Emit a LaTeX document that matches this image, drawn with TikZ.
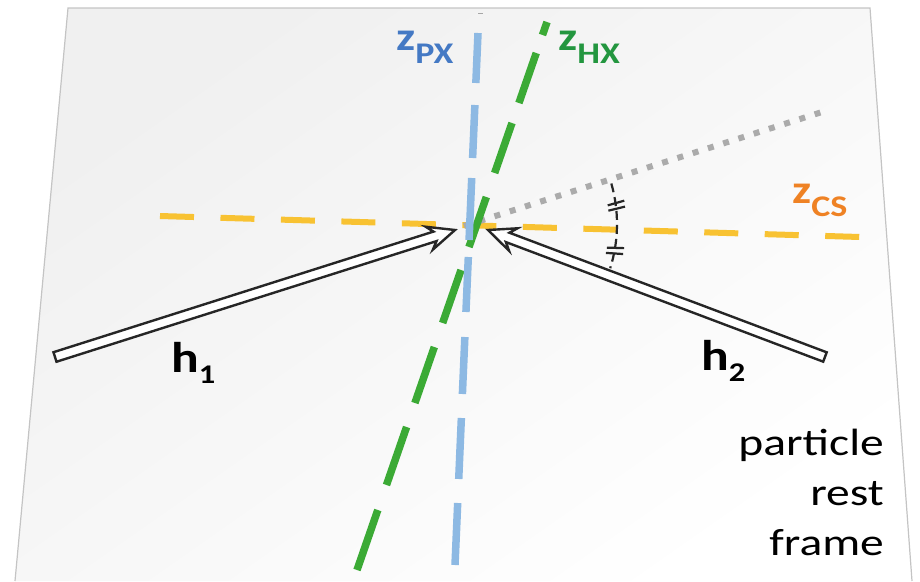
\documentclass[tikz,border=0pt]{standalone}
\usepackage{fontspec}
\usepackage{graphicx}
\usetikzlibrary{calc}
\newfontfamily\calfont{Carlito}
\definecolor{cOrange}{HTML}{F8C232}
\definecolor{cBlue}{HTML}{8DB9E3}
\definecolor{cGreen}{HTML}{3BAA35}
\definecolor{cGray}{HTML}{ABABAB}
\definecolor{tBlue}{HTML}{4479C4}
\definecolor{tGreen}{HTML}{23963F}
\definecolor{tOrange}{HTML}{EF8224}
\definecolor{planeEdge}{HTML}{C4C4C4}
\newcommand{\widetxt}[1]{\scalebox{1.2}[1]{#1}}
\newcommand{\axlabel}[2]{\widetxt{\fontsize{40}{40}\selectfont\bfseries #1\raisebox{-13pt}{\fontsize{30}{30}\selectfont #2}}}
\newcommand{\hlabel}[2]{\widetxt{\fontsize{43}{43}\selectfont\bfseries #1\raisebox{-11pt}{\fontsize{27}{27}\selectfont #2}}}
\tikzset{
  axisline/.style={line width=7.5, line cap=butt},
  orangeline/.style={draw=cOrange, line width=6, dash pattern=on 34pt off 26.5pt},
  grayline/.style={draw=cGray, line width=6, dash pattern=on 6pt off 10pt},
  arrowbody/.style={fill=white, draw=black!85, line width=2.4, line join=miter},
  pics/hollowarrow/.style={code={
    \filldraw[arrowbody] (0,0) -- (-27,-12) -- (-21,-5) -- (-#1,-5) -- (-#1,5) -- (-21,5) -- (-27,12) -- cycle;
  }},
  anglearc/.style={draw=black!85, line width=2.2, dash pattern=on 9pt off 5pt},
  tickmark/.style={draw=black!85, line width=2.2},
  txt/.style={font=\calfont, inner sep=0pt},
}
\begin{document}
\begin{tikzpicture}[x=1pt,y=-1pt]
\useasboundingbox (0,0) rectangle (920,581);
% plane
\shade[top color=black!6, bottom color=white, shading angle=35]
  (68,8) -- (870,8) -- (912,581) -- (15,581) -- cycle;
\draw[planeEdge, line width=1.2] (15,581) -- (68,8) -- (870,8) -- (912,581);
\draw[black!35, line width=1] (478,13) -- (483,13);
% key points
\coordinate (O) at (470,224);
\coordinate (C1) at (160,216);
\coordinate (C2) at (860,237);
\coordinate (D1) at (464,226);
\coordinate (D2) at (822,112);
\coordinate (G1) at (547,22);
\coordinate (G2) at (357,570);
\coordinate (B1) at (478,33);
\coordinate (B2) at (455,565);
% zCS axis
\draw[orangeline] (C1) -- (C2);
% dotted direction
\draw[grayline] (D1) -- (D2);
% zHX axis
\foreach \a/\b in {22/35,53/103,123/173,197/247,270/323,347/403,427/485,510/570}
  \draw[axisline, cGreen] ($(G1)!{(\a-22)/548}!(G2)$) -- ($(G1)!{(\b-22)/548}!(G2)$);
% zPX axis
\foreach \a/\b in {33/83,105/158,178/240,257/312,337/394,418/479,503/565}
  \draw[axisline, cBlue] ($(B1)!{(\a-33)/532}!(B2)$) -- ($(B1)!{(\b-33)/532}!(B2)$);
% hadron arrows
\coordinate (T1) at (455,230);
\coordinate (S1) at (55,357);
\coordinate (T2) at (488,230);
\coordinate (S2) at (825,357);
\pic (arrA) [rotate=17.61] at (T1) {hollowarrow=419.7};
\pic (arrB) [rotate=159.35] at (T2) {hollowarrow=360.1};
% angle marks
\draw[anglearc] ($(O)+(-16:147)$) arc[start angle=-16, end angle=17.5, radius=147];
\foreach \a in {-6.6,10.9} {
  \draw[tickmark] ($(O)+(\a-1.1:139)$) -- ($(O)+(\a-2.0:156)$);
  \draw[tickmark] ($(O)+(\a+1.1:139)$) -- ($(O)+(\a+0.2:156)$);
}
% labels
\node[txt, text=tBlue, anchor=base west] (zpx) at (396,50) {\axlabel{z}{PX}};
\node[txt, text=tGreen, anchor=base west] (zhx) at (558,50) {\axlabel{z}{HX}};
\node[txt, text=tOrange, anchor=base west] (zcs) at (792,203) {\axlabel{z}{CS}};
\node[txt, anchor=base west] (h1) at (171,372) {\hlabel{h}{1}};
\node[txt, anchor=base west] (h2) at (701,370) {\hlabel{h}{2}};
\node[txt, anchor=north east] (prf) at (884,420)
  {\scalebox{1.25}[1]{\fontsize{38}{50}\selectfont\begin{tabular}{@{}r@{}}particle\\rest\\frame\end{tabular}}};
\end{tikzpicture}
\end{document}
